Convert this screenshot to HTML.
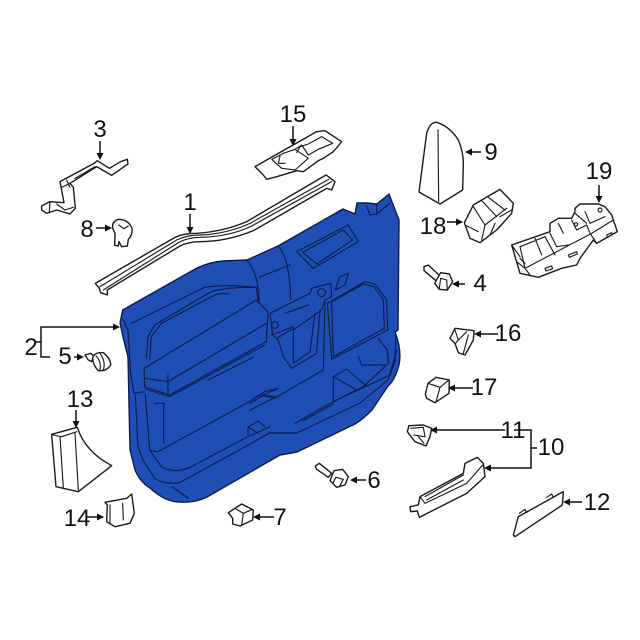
<!DOCTYPE html>
<html><head><meta charset="utf-8"><style>
html,body{margin:0;padding:0;background:#fff}
svg{display:block}
text{font-family:"Liberation Sans",sans-serif;font-size:24px;fill:#111;text-anchor:middle}
.p{fill:#fff;stroke:#1a1a1a;stroke-width:4.2;stroke-linejoin:round;stroke-linecap:round}
.l{fill:none;stroke:#1a1a1a;stroke-width:3.4;stroke-linejoin:round;stroke-linecap:round}
.a{fill:none;stroke:#111;stroke-width:1.5}
.h{fill:#111;stroke:none}
.d{fill:none;stroke:#0d1b4a;stroke-width:3.4;stroke-linejoin:round;stroke-linecap:round}
.o{fill:none;stroke:#0d1b4a;stroke-width:1.13;stroke-linejoin:round;stroke-linecap:round}
</style></head><body>
<svg width="640" height="640" viewBox="0 0 640 640" xmlns="http://www.w3.org/2000/svg">
<rect width="640" height="640" fill="#fff"/>

<!-- door panel body -->
<path d="M122.700 310 L197 268 Q210 262 223 261 L247 260 L278 246 L343 209 L355 214 L357 203 L367 203 L377 204 L389 194 L399 220 L398 330 L395 332 Q402 350 399 365 Q395 380 388 386 L372 410 Q362 420 355 424 L297 452 L280 455 L207 497 Q195 503 180 502 Q165 502 150 488 Q140 482 135 470 L130 450 L128 357 Q125 345 123 337 L120 323 Z" fill="#1f4fb4" stroke="#0d1b4a" stroke-width="1.4" stroke-linejoin="round"/>
<path class="o" d="M270 433 L297 433 L360 403 L388 380 L397 350 M172 487 L188 498 M248 435 L248 427 L258 421 L265 427 M248 427 L258 433"/>

<g transform="translate(110,190) scale(.33333)">
<path class="d" d="M410 210 Q445 245 447 335 M505 168 Q540 210 542 330 M447 262 L540 225"/>
<path class="d" d="M560 185 L715 105 L745 155 L610 235 Z M578 187 L700 120 L728 150 L620 222 Z"/>
<path class="d" d="M770 48 L780 75 L800 72 L840 40 M800 42 L800 70"/>
</g>

<!-- door panel left -->
<g transform="translate(118,280) scale(.33333)">
<path class="d" d="M15 118 L30 150 L38 280 L48 340 M40 130 L260 22 Q320 12 415 22 L420 60"/>
<path class="d" d="M85 235 L90 170 L110 135 L270 40 Q300 22 415 22 M95 240 L100 170 L130 130 L290 45 Q310 38 330 42"/>
<path class="d" d="M78 265 L95 255 L415 60 L450 95 L445 185 L155 345 L80 320 Z M80 295 L150 305 L445 130 M150 285 L150 340 M80 326 L155 350 L440 195 M270 300 L405 232"/>
<path class="d" d="M48 340 L80 335 M52 345 L60 500 L75 540 L110 595 Q140 615 185 608 L400 490 L456 458"/>
<path class="d" d="M82 345 L95 510 L130 560 Q165 580 210 565 L390 470 L456 440"/>
<path class="d" d="M110 370 L140 370 M137 370 L137 490 M95 512 L120 515 L385 370 L440 335 L480 325 M440 345 L480 352"/>
</g>

<!-- door panel right -->
<g transform="translate(250,270) scale(.33333)">
<path class="d" d="M232 100 L345 35 L375 42 L410 90 L413 180 L245 268 Z M245 95 L340 42 L372 50 L400 90 L403 175 L250 260 Z"/>
<path class="d" d="M60 130 L180 70 L185 55 L242 40 L245 80 L225 90 L215 120 L130 180 L130 280 L180 245 L195 130 M60 130 L68 195 L85 210 L100 260 L125 295 L200 250 L210 120 M80 205 L130 175 M105 130 L175 105 M65 195 L130 170"/>
<circle class="d" cx="215" cy="68" r="12"/><circle class="d" cx="75" cy="165" r="10"/>
<path class="d" d="M255 60 L270 20 L295 10 L285 45 Z"/>
<path class="d" d="M225 90 L220 300 L90 375 L0 420 M85 355 L40 375 L0 400 M30 375 L75 385"/>
<path class="d" d="M250 320 L290 297 L345 345 M250 320 L320 360 M250 320 L250 395 L340 350 L415 280 L412 240 L385 205 M325 260 L335 285 L405 285"/>
<path class="d" d="M135 460 L250 395 M160 452 L250 402 M250 395 L420 315 L436 270 L437 190"/>
</g>

<!-- part 15 -->
<g transform="translate(240,120) scale(.33333)">
<path class="p" d="M45 140 L230 35 L255 32 L305 65 L280 95 L250 115 L235 122 L190 155 L170 152 L110 170 L80 178 L70 165 Z"/>
<path class="l" d="M95 118 L125 145 L165 150 L205 115 L165 88 L130 100 L95 118 M120 108 L115 130 L135 130 M165 88 L185 75 L205 105 L235 88 L278 70 L245 50 L205 72 L180 80 L170 98"/>
</g>

<!-- part 1 strip -->
<g transform="translate(20,100) scale(.33333)">
<path class="p" d="M226 550 L465 412 Q490 400 530 400 Q610 395 680 365 L918 225 L945 245 L935 270 L920 265 L700 392 Q620 425 540 425 Q505 425 480 438 L262 570 L262 585 L242 578 L238 565 Z"/>
<path class="l" d="M240 560 L470 420 Q500 405 540 405 Q620 402 690 370 L926 238 M250 570 L475 428 Q505 412 540 412 Q630 410 695 378 L935 245"/>
</g>

<!-- part 3 bracket -->
<g transform="translate(20,100) scale(.33333)">
<path class="p" d="M65 318 L90 305 L132 308 L120 245 L222 190 L232 182 L268 205 L302 185 L322 178 L324 192 L295 212 L275 226 L230 200 L150 250 L160 262 L166 325 L150 342 L110 330 L80 340 L65 330 Z"/>
<path class="l" d="M125 262 L150 250 M140 240 L150 262 M165 235 L225 200 M90 305 L88 335 M110 312 L135 330 L160 322"/>
</g>

<!-- part 8 -->
<g transform="translate(20,100) scale(.33333)">
<path class="p" d="M285 400 L284 436 L295 438 L297 425 L305 440 L322 438 L325 418 Q338 405 336 385 Q325 358 295 358 Q275 365 278 385 Z"/>
<path class="l" d="M296 375 L312 386 L325 378"/>
</g>

<!-- part 9, 18, 4 -->
<g transform="translate(410,110) scale(.33333)">
<path class="p" d="M27 246 L50 70 Q60 35 80 37 Q120 50 145 90 Q160 125 160 160 L158 240 L90 282 Z"/>
<path class="l" d="M84 60 L86 275"/>
<path class="p" d="M163 338 L190 285 L215 270 L270 238 L310 280 L305 310 L260 360 L210 398 L180 385 Z"/>
<path class="l" d="M190 290 L225 345 L215 390 M215 272 L260 320 M235 262 L285 300 M225 345 L290 295 M255 340 L240 375 M165 345 L205 365 M270 320 L305 300"/>
<path class="p" d="M42 470 L55 465 L90 498 L78 512 L42 482 Z"/>
<path class="p" d="M92 488 L118 492 L128 515 L112 540 L88 538 L74 520 Z"/>
<path class="l" d="M92 505 L110 510 L112 540 M92 505 L88 535"/>
</g>

<!-- part 19 -->
<g transform="translate(500,190) scale(.33333)">
<path class="p" d="M35 165 L150 125 L150 100 L175 85 L215 85 L225 65 L225 55 L240 42 L295 42 L315 50 L335 75 L352 125 L290 160 L280 150 L240 205 L230 225 L185 235 L115 262 L60 250 Z"/>
<path class="l" d="M50 215 L75 235 L275 130 L340 90 M35 165 L60 200 M60 170 L75 235 L90 255 M60 170 L135 140 L165 195 M105 145 L125 195 M150 130 L170 170 L205 165 M175 100 L190 130 M215 90 L230 120 L260 105 L270 130 L290 160 M225 70 L260 100 M255 65 L270 100 L315 80 M60 205 L75 220 M135 235 L155 228 L158 236 L138 243 Z M205 195 L230 185 L232 192 L208 202 Z M320 135 L335 128 L337 134 L322 141 Z"/>
<circle class="l" cx="300" cy="60" r="6"/><circle class="l" cx="228" cy="103" r="5"/>
</g>

<!-- part 16, 17, 11, handle, 12 -->
<g transform="translate(400,300) scale(.33333)">
<path class="p" d="M150 115 L165 85 L222 92 L220 120 L195 165 L175 158 L165 130 Z"/>
<path class="l" d="M165 90 L175 120 L165 132 M175 120 L200 95 M205 105 L190 160"/>
<path class="p" d="M76 282 L84 250 L108 232 L148 240 L147 280 L105 308 L80 295 Z"/>
<path class="l" d="M84 250 L120 262 L147 240 M120 262 L108 305"/>
<path class="p" d="M22 395 L27 377 L70 375 L95 385 L90 410 L78 438 L45 425 Z"/>
<path class="l" d="M32 385 L70 382 L75 410 L40 405 M55 410 L72 430"/>
<path class="p" d="M30 620 L55 615 L60 590 L190 520 L195 490 L232 472 L250 490 L255 530 L200 580 L58 652 L52 633 L32 635 Z"/>
<path class="l" d="M60 590 L75 610 L200 550 L248 495 M75 590 L190 525 M80 600 L190 540"/>
<path class="p" d="M355 650 L490 575 L487 615 L345 710 L340 705 Z"/>
<path class="l" d="M358 640 L375 628 L380 638 M440 592 L455 582 L460 592"/>
</g>

<!-- part 5, 13, 14 -->
<g transform="translate(20,320) scale(.33333)">
<path class="p" d="M195 105 L212 100 L222 108 L215 125 L205 120 Z"/>
<path class="p" d="M218 112 Q225 95 250 98 Q272 115 272 135 Q260 155 235 152 Q218 135 218 112 Z"/>
<path class="l" d="M228 108 Q245 125 240 150 M240 100 Q258 125 250 150"/>
<path class="p" d="M95 343 L172 322 Q195 395 275 437 L175 515 L108 500 Z"/>
<path class="l" d="M120 350 L130 503 M165 340 L175 510 M100 345 L125 350 L170 335"/>
<path class="p" d="M255 547 L320 535 L335 522 L343 580 L330 610 L285 620 L260 605 L262 555 Z"/>
<path class="l" d="M270 555 L270 612 M308 550 L310 600"/>
</g>

<!-- part 6, 7 -->
<g transform="translate(210,450) scale(.33333)">
<path class="p" d="M316 48 L328 40 L365 70 L355 82 L320 58 Z"/>
<path class="p" d="M372 62 L398 58 L415 80 L405 105 L380 112 L360 92 Z"/>
<path class="l" d="M378 82 L400 88 L388 110 M378 82 L368 100"/>
<path class="p" d="M55 188 L95 162 L130 180 L128 210 L90 228 L68 222 L68 205 Z"/>
<path class="l" d="M75 175 L100 190 L128 178 M100 190 L95 225"/>
</g>

<!-- leaders -->
<path class="a" d="M190 214V230M100 141V156M293 126V142M96 228H108M469 152H481M599 185V199M447 222H462M465 284H456M498 334H477M473 388H451M505 430H431M514 430H531V468H487M531 448H537M582 502H566M119 327H41V357H50M41 342H35M76 410V425M87 517H103M74 357H81M352 480H366M274 517H256"/>
<g class="h">
<path d="M190 234l-3.500-7h7zM100 160l-3.500-7h7zM293 146l-3.500-7h7zM112 228l-7-3.500v7zM465 152l7-3.500v7zM599 203l-3.500-7h7z"/>
<path d="M463 222l-7-3.500v7zM452 284l7-3.500v7zM474 334l7-3.500v7zM448 388l7-3.500v7zM430 430l7-3.500v7zM484 468l7-3.500v7zM563 502l7-3.500v7z"/>
<path d="M120 327l-7-3.500v7zM76 428l-3.500-7h7zM104 517l-7-3.500v7zM84 357l-7-3.500v7zM350 480l7-3.500v7zM253 517l7-3.500v7z"/>
</g>

<!-- labels -->
<text x="190" y="210">1</text>
<text x="100" y="137">3</text>
<text x="293" y="122">15</text>
<text x="87" y="237">8</text>
<text x="491" y="160">9</text>
<text x="599" y="179">19</text>
<text x="433" y="234">18</text>
<text x="480" y="291">4</text>
<text x="508" y="341">16</text>
<text x="484" y="395">17</text>
<text x="513" y="438">11</text>
<text x="551" y="455">10</text>
<text x="597" y="510">12</text>
<text x="31" y="355">2</text>
<text x="65" y="364">5</text>
<text x="80" y="407">13</text>
<text x="77" y="526">14</text>
<text x="374" y="488">6</text>
<text x="280" y="525">7</text>
</svg>
</body></html>
